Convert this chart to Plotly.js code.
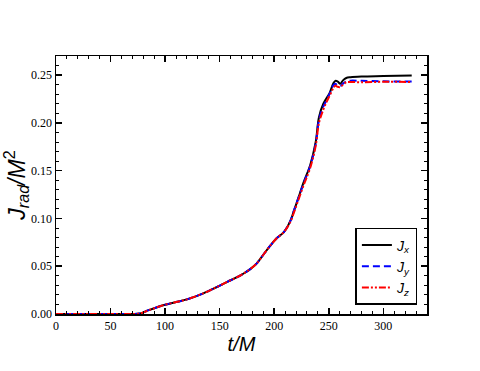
<!DOCTYPE html>
<html>
<head>
<meta charset="utf-8">
<script src="https://cdn.plot.ly/plotly-3.0.1.min.js"></script>
<style>
  html, body { margin: 0; padding: 0; background: #fff; }
  #plot { width: 480px; height: 371px; }
</style>
</head>
<body>
<div id="plot"></div>
<script>
// time in units of M
var t = [0, 25, 50, 70, 77, 85, 99, 110, 120, 135, 147, 157, 165, 172, 178, 184, 190, 196, 202, 209,
  215, 218, 222, 227, 233, 238, 241, 245, 248, 251, 254, 256, 258, 260.5, 263, 266, 270, 280, 300, 326];

// radiated angular momentum components
var jx = [0, 0, 0, 0, 0.0005, 0.004, 0.0094, 0.0125, 0.0153, 0.0216, 0.028, 0.0337, 0.038, 0.0424, 0.047,
  0.053, 0.062, 0.071, 0.079, 0.086, 0.098, 0.108, 0.121, 0.138, 0.156, 0.180, 0.206, 0.220, 0.226, 0.232,
  0.241, 0.244, 0.2435, 0.241, 0.2445, 0.247, 0.2478, 0.2485, 0.249, 0.2496];
var jy = [0, 0, 0, 0, 0.0005, 0.004, 0.0094, 0.0125, 0.0153, 0.0216, 0.028, 0.0337, 0.038, 0.0424, 0.047,
  0.053, 0.062, 0.071, 0.079, 0.086, 0.098, 0.108, 0.121, 0.137, 0.155, 0.178, 0.203, 0.217, 0.224, 0.231,
  0.239, 0.241, 0.239, 0.2385, 0.241, 0.2435, 0.2442, 0.244, 0.2435, 0.2432];
var jz = [0, 0, 0, 0, 0.0005, 0.004, 0.0094, 0.0125, 0.0153, 0.0216, 0.028, 0.0337, 0.038, 0.0424, 0.047,
  0.053, 0.062, 0.071, 0.079, 0.086, 0.097, 0.106, 0.119, 0.135, 0.153, 0.176, 0.200, 0.214, 0.222, 0.229,
  0.236, 0.239, 0.2378, 0.2375, 0.240, 0.2425, 0.2428, 0.2425, 0.243, 0.2428];

var traceX = {
  x: t, y: jx, mode: "lines", type: "scatter",
  name: "<i>J</i><sub><i>x</i></sub>",
  line: { color: "#000000", width: 2, shape: "spline" }
};
var traceY = {
  x: t, y: jy, mode: "lines", type: "scatter",
  name: "<i>J</i><sub><i>y</i></sub>",
  line: { color: "#0000ff", width: 2, dash: "7px,4px", shape: "spline" }
};
var traceZ = {
  x: t, y: jz, mode: "lines", type: "scatter",
  name: "<i>J</i><sub><i>z</i></sub>",
  line: { color: "#ff0000", width: 2, dash: "7px,2px,2px,2px,2px,2px", shape: "spline" }
};

var serif = "Liberation Serif, Times New Roman, serif";
var sans = "Liberation Sans, Arial, sans-serif";

var axisCommon = {
  showgrid: false, zeroline: false,
  showline: true, linecolor: "#000", linewidth: 1.5, mirror: "allticks",
  ticks: "inside", ticklen: 6, tickwidth: 1.5, tickcolor: "#000",
  tickfont: { family: serif, size: 12, color: "#000" }
};

var layout = {
  width: 480, height: 371,
  margin: { l: 56, r: 53, t: 56, b: 57 },
  paper_bgcolor: "#fff", plot_bgcolor: "#fff",
  showlegend: true,
  legend: {
    x: 0.807, y: 0.035, xanchor: "left", yanchor: "bottom",
    bordercolor: "#000", borderwidth: 1.5, bgcolor: "#fff",
    font: { family: sans, size: 14, color: "#000" },
    itemwidth: 30, tracegroupgap: 0
  },
  xaxis: Object.assign({}, axisCommon, {
    range: [0, 340], dtick: 50, tick0: 0,
    minor: { dtick: 10, ticks: "inside", ticklen: 3, tickwidth: 1, tickcolor: "#000" },
    title: { text: "<i>t/M</i>", font: { family: sans, size: 20, color: "#000" }, standoff: 1 }
  }),
  yaxis: Object.assign({}, axisCommon, {
    range: [0, 0.27], dtick: 0.05, tick0: 0, tickformat: ".2f",
    minor: { dtick: 0.01, ticks: "inside", ticklen: 3, tickwidth: 1, tickcolor: "#000" },
    title: { text: "<i>J</i><sub><i>rad</i></sub><i>/M</i><sup>2</sup>", font: { family: sans, size: 23, color: "#000" }, standoff: 4 }
  })
};

Plotly.newPlot("plot", [traceX, traceY, traceZ], layout, { displayModeBar: false, staticPlot: true });
</script>
</body>
</html>
